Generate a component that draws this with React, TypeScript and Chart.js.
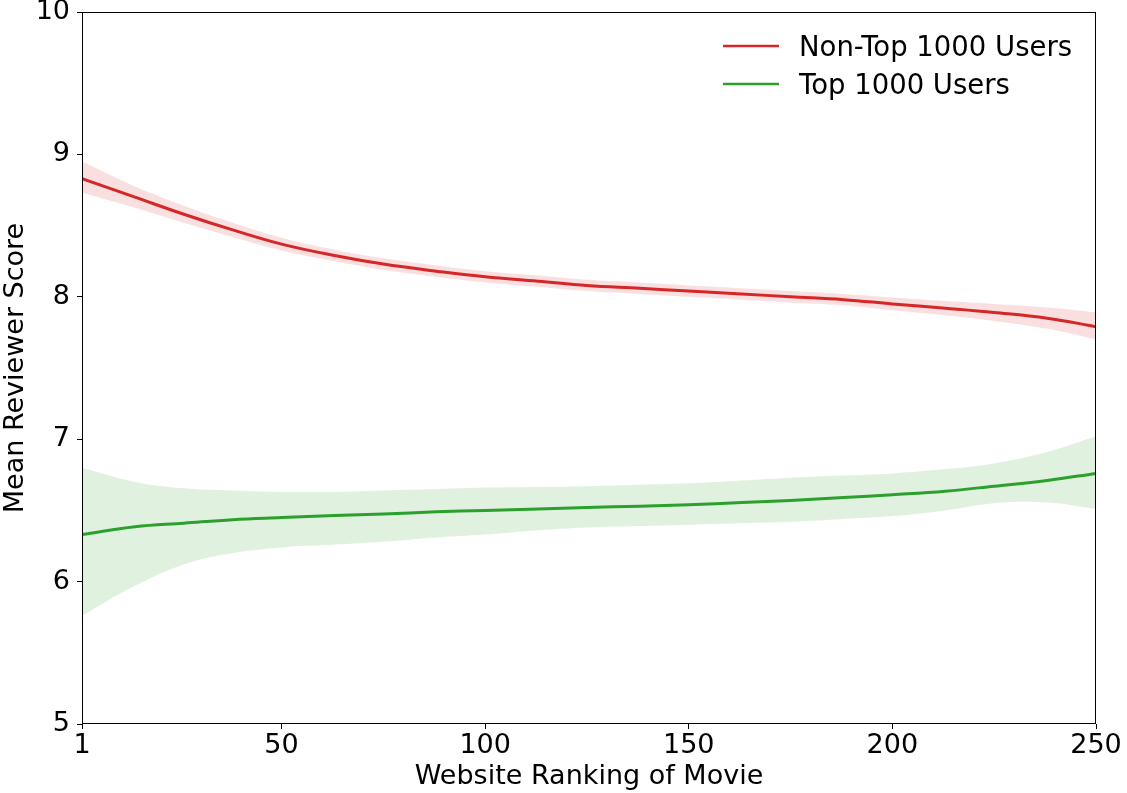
import React, { useEffect, useRef } from 'react';
import { Chart, registerables } from 'chart.js';

Chart.register(...registerables);

const ranks = [1, 14, 26, 38, 50, 63, 75, 88, 100, 113, 125, 138, 150, 163, 175, 188, 200, 213, 225, 238, 250];

const nonTopMean = [8.83, 8.7, 8.58, 8.47, 8.37, 8.29, 8.23, 8.18, 8.14, 8.11, 8.08, 8.06, 8.04, 8.02, 8.0, 7.98, 7.95, 7.92, 7.89, 7.85, 7.79];
const nonTopUpper = [8.95, 8.775, 8.64, 8.52, 8.415, 8.33, 8.27, 8.22, 8.18, 8.15, 8.12, 8.1, 8.08, 8.06, 8.04, 8.02, 7.995, 7.97, 7.95, 7.925, 7.89];
const nonTopLower = [8.73, 8.625, 8.52, 8.42, 8.325, 8.25, 8.19, 8.14, 8.1, 8.07, 8.04, 8.02, 8.0, 7.98, 7.96, 7.94, 7.905, 7.87, 7.83, 7.775, 7.7];

const topMean = [6.33, 6.385, 6.41, 6.435, 6.45, 6.465, 6.475, 6.49, 6.5, 6.51, 6.52, 6.53, 6.54, 6.555, 6.57, 6.59, 6.61, 6.635, 6.67, 6.71, 6.76];
const topUpper = [6.8, 6.7, 6.655, 6.64, 6.63, 6.63, 6.64, 6.65, 6.66, 6.665, 6.67, 6.68, 6.69, 6.71, 6.73, 6.745, 6.76, 6.79, 6.83, 6.91, 7.02];
const topLower = [5.76, 5.97, 6.12, 6.2, 6.24, 6.26, 6.28, 6.31, 6.33, 6.36, 6.38, 6.39, 6.4, 6.41, 6.42, 6.44, 6.46, 6.5, 6.55, 6.555, 6.51];

const xTicks = [1, 50, 100, 150, 200, 250];
const yTicks = [5, 6, 7, 8, 9, 10];
const seriesLabels = ['Non-Top 1000 Users', 'Top 1000 Users'];
const xTitle = 'Website Ranking of Movie';
const yTitle = 'Mean Reviewer Score';

const RED = '#d62728';
const GREEN = '#2ca02c';
const FONT = '"DejaVu Sans", sans-serif';

const pts = (vals: number[]) => ranks.map((r, i) => ({ x: r, y: vals[i] }));

const framePlugin = {
  id: 'frame',
  afterDatasetsDraw(chart: any) {
    const { ctx, chartArea } = chart;
    ctx.save();
    ctx.strokeStyle = '#000';
    ctx.lineWidth = 1;
    ctx.strokeRect(
      Math.round(chartArea.left) + 0.5,
      Math.round(chartArea.top) + 0.5,
      Math.round(chartArea.right - chartArea.left) - 1,
      Math.round(chartArea.bottom - chartArea.top) - 1
    );
    ctx.restore();
  },
};

const legendPlugin = {
  id: 'customLegend',
  afterDraw(chart: any) {
    const { ctx, chartArea } = chart;
    const colors = [RED, GREEN];
    ctx.save();
    ctx.font = `27.5px ${FONT}`;
    ctx.textBaseline = 'middle';
    ctx.textAlign = 'left';
    seriesLabels.forEach((lab, i) => {
      const y = chartArea.top + 34 + i * 38;
      const x0 = chartArea.left + 641;
      ctx.strokeStyle = colors[i];
      ctx.lineWidth = 2.5;
      ctx.beginPath();
      ctx.moveTo(x0, y);
      ctx.lineTo(x0 + 56, y);
      ctx.stroke();
      ctx.fillStyle = '#000';
      ctx.fillText(lab, x0 + 76, y + 3);
    });
    ctx.restore();
  },
};

export default function App() {
  const ref = useRef<HTMLCanvasElement | null>(null);

  useEffect(() => {
    document.body.style.margin = '0';
    if (!ref.current) return;
    Chart.defaults.font.family = FONT;
    const band = (vals: number[], fill: any, bg: string) => ({
      data: pts(vals),
      borderWidth: 0,
      borderColor: 'rgba(0,0,0,0)',
      backgroundColor: bg,
      pointRadius: 0,
      fill,
      tension: 0.4,
    });
    const chart = new Chart(ref.current, {
      type: 'line',
      data: {
        datasets: [
          band(nonTopLower, false, 'rgba(0,0,0,0)'),
          band(nonTopUpper, '-1', 'rgba(214,39,40,0.15)'),
          band(topLower, false, 'rgba(0,0,0,0)'),
          band(topUpper, '-1', 'rgba(44,160,44,0.15)'),
          {
            label: seriesLabels[0],
            data: pts(nonTopMean),
            borderColor: RED,
            borderWidth: 3,
            pointRadius: 0,
            fill: false,
            tension: 0.4,
          },
          {
            label: seriesLabels[1],
            data: pts(topMean),
            borderColor: GREEN,
            borderWidth: 3,
            pointRadius: 0,
            fill: false,
            tension: 0.4,
          },
        ],
      },
      options: {
        animation: false,
        responsive: false,
        devicePixelRatio: 1,
        layout: { padding: { left: 0, right: 31, top: 12, bottom: 0 } },
        plugins: {
          legend: { display: false },
          tooltip: { enabled: false },
        },
        scales: {
          x: {
            type: 'linear',
            min: 1,
            max: 250,
            afterBuildTicks: (s: any) => {
              s.ticks = xTicks.map((v) => ({ value: v }));
            },
            afterFit: (s: any) => {
              s.height = 69;
              s.paddingLeft = 0;
              s.paddingRight = 0;
            },
            border: { display: false },
            grid: {
              drawOnChartArea: false,
              drawTicks: true,
              tickLength: 5,
              tickColor: '#000',
              tickWidth: 1,
            },
            ticks: {
              color: '#000',
              font: { size: 27, family: FONT },
              padding: 1,
              maxRotation: 0,
              autoSkip: false,
            },
            title: {
              display: true,
              text: xTitle,
              color: '#000',
              font: { size: 27, family: FONT },
              padding: { top: 0, bottom: 0 },
            },
          },
          y: {
            type: 'linear',
            min: 5,
            max: 10,
            afterBuildTicks: (s: any) => {
              s.ticks = yTicks.map((v) => ({ value: v }));
            },
            afterFit: (s: any) => {
              s.width = 82;
              s.paddingTop = 0;
              s.paddingBottom = 0;
            },
            border: { display: false },
            grid: {
              drawOnChartArea: false,
              drawTicks: true,
              tickLength: 5,
              tickColor: '#000',
              tickWidth: 1,
            },
            ticks: {
              color: '#000',
              font: { size: 27, family: FONT },
              padding: 7,
              autoSkip: false,
            },
            title: {
              display: true,
              text: yTitle,
              color: '#000',
              font: { size: 27, family: FONT },
              padding: 0,
            },
          },
        },
      },
      plugins: [framePlugin, legendPlugin],
    });
    return () => chart.destroy();
  }, []);

  return (
    <div style={{ width: 1127, height: 793, background: '#fff' }}>
      <canvas ref={ref} width={1127} height={793} style={{ display: 'block' }} />
    </div>
  );
}
